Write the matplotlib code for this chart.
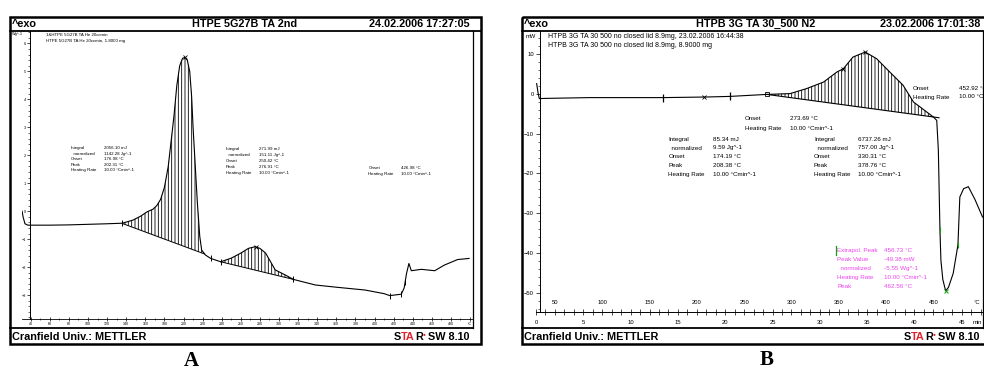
import numpy as np
import matplotlib.pyplot as plt
from matplotlib.patches import Rectangle
from matplotlib.ticker import MultipleLocator

plt.rcParams['font.family'] = ['Liberation Sans', 'DejaVu Sans']
plt.rcParams['hatch.linewidth'] = 0.6

W, H = 984, 369

# ---- panel A : HTPE 5G27B TA 2nd  (W/g against degC)
a_temp = [31, 32, 34, 37, 40, 60, 80, 100, 120, 136, 147, 155, 162, 168, 172,
          176, 180, 184, 187, 190, 193, 196, 199, 201.5, 204, 206.5, 208.5, 210,
          212, 214.5, 217, 219, 223, 228.5, 239, 250, 260, 268, 275, 280, 286,
          291, 296, 307, 315, 338, 360, 390, 410, 416, 428, 431, 433.5, 436,
          438.5, 449, 463, 473, 487, 499]
a_flow = [0.0, -0.2, -0.45, -0.5, -0.5, -0.5, -0.49, -0.47, -0.45, -0.43, -0.32,
          -0.18, -0.02, 0.07, 0.2, 0.42, 0.85, 1.6, 2.5, 3.4, 4.5, 5.2, 5.47, 5.5,
          5.4, 5.0, 4.1, 3.0, 1.8, 0.3, -0.9, -1.39, -1.57, -1.69, -1.81, -1.68,
          -1.5, -1.33, -1.27, -1.33, -1.5, -1.8, -2.1, -2.29, -2.44, -2.64, -2.72,
          -2.82, -2.95, -3.02, -2.97, -2.75, -2.23, -1.87, -2.13, -2.08, -2.13,
          -1.93, -1.73, -1.69]
a_base1_t = [136, 222]
a_base1_w = [-0.44, -1.53]
a_base2_t = [239, 315]
a_base2_w = [-1.81, -2.44]
a_marks_t = [136, 228.5, 239, 315, 416, 428, 432]
a_peaks_t = [201.5, 276]
a_yticks = [-3, -2, -1, 0, 1, 2, 3, 4, 5, 6]
a_xticks = [40, 60, 80, 100, 120, 140, 160, 180, 200, 220, 240, 260, 280, 300,
            320, 340, 360, 380, 400, 420, 440, 460, 480, 500]
a_xlabels = [str(v) for v in a_xticks[:-1]] + ['°C']

a_head = ['1&HTPE 5G27B TA He 20ccmin', 'HTPE 5G27B TA He 20ccmin, 1.8000 mg']
a_res1 = [('Integral', '2056.10 mJ'), ('  normalized', '1142.28 Jg^-1'),
          ('Onset', '176.98 °C'), ('Peak', '202.31 °C'),
          ('Heating Rate', '10.00 °Cmin^-1')]
a_res2 = [('Integral', '271.99 mJ'), ('  normalized', '151.11 Jg^-1'),
          ('Onset', '250.42 °C'), ('Peak', '276.91 °C'),
          ('Heating Rate', '10.00 °Cmin^-1')]
a_res3 = [('Onset', '426.98 °C'), ('Heating Rate', '10.00 °Cmin^-1')]

# ---- panel B : HTPB 3G TA 30_500 N2  (mW against min, 10 K/min from 30 degC)
b_time = [0.07, 0.21, 0.35, 0.95, 5.7, 10, 13.46, 18.0, 20.5, 24.4, 26.85, 28.6,
          30.4, 31.8, 32.5, 33.5, 34.8, 36.0, 37.4, 38.8, 39.9, 41.3, 42.0, 42.36,
          42.53, 42.7, 42.8, 43.0, 43.3, 43.6, 44.1, 44.6, 44.8, 45.2, 45.7, 46.4,
          47.2]
b_flow = [2.5, 0.3, -1.25, -1.2, -1.0, -1.0, -1.0, -0.85, -0.7, -0.2, 0.0, 1.25,
          2.9, 5.4, 6.25, 9.15, 10.4, 8.75, 5.4, 2.1, -2.1, -4.6, -5.85, -6.7,
          -14.2, -34.2, -41.7, -46.5, -49.4, -48.5, -45, -37.9, -25.9, -23.8,
          -23.3, -26.5, -30.9]
b_base_t = [24.4, 42.0]
b_base_w = [-0.2, -5.85]
b_bracket_t = [13.46, 20.5]
b_cross_t = [17.8, 32.5, 34.8]
b_green_t = [42.7, 44.6]
b_min_t = 43.3
b_yticks = [-50, -40, -30, -20, -10, 0, 10]
b_xticks = [0, 5, 10, 15, 20, 25, 30, 35, 40, 45]
b_tticks = [50, 100, 150, 200, 250, 300, 350, 400, 450]

b_head = ['HTPB 3G TA 30 500 no closed lid 8.9mg, 23.02.2006 16:44:38',
          'HTPB 3G TA 30 500 no closed lid 8.9mg, 8.9000 mg']
b_res1 = [('Onset', '273.69 °C'), ('Heating Rate', '10.00 °Cmin^-1')]
b_res2 = [('Integral', '85.34 mJ'), ('  normalized', '9.59 Jg^-1'),
          ('Onset', '174.19 °C'), ('Peak', '208.38 °C'),
          ('Heating Rate', '10.00 °Cmin^-1')]
b_res3 = [('Integral', '6737.26 mJ'), ('  normalized', '757.00 Jg^-1'),
          ('Onset', '330.31 °C'), ('Peak', '378.76 °C'),
          ('Heating Rate', '10.00 °Cmin^-1')]
b_res4 = [('Onset', '452.92 °C'), ('Heating Rate', '10.00 °Cmin^-1')]
b_res5 = [('Extrapol. Peak', '456.73 °C'), ('Peak Value', '-49.38 mW'),
          ('  normalized', '-5.55 Wg^-1'), ('Heating Rate', '10.00 °Cmin^-1'),
          ('Peak', '462.56 °C')]

RED = '#e3222b'
MAG = '#ee44ee'
GRN = '#12a012'

fig = plt.figure(figsize=(W / 100, H / 100), dpi=100)
bg = fig.add_axes([0, 0, 1, 1])
bg.set_xlim(0, W)
bg.set_ylim(H, 0)
bg.axis('off')


def px_axes(x0, y0, x1, y1):
    ax = fig.add_axes([x0 / W, 1 - y1 / H, (x1 - x0) / W, (y1 - y0) / H])
    ax.patch.set_visible(False)
    for s in ['top', 'right']:
        ax.spines[s].set_visible(False)
    return ax


def block(x_lab, x_val, y0, dy, rows, fs, color='black'):
    for i, (lab, val) in enumerate(rows):
        bg.text(x_lab, y0 + i * dy, lab, fontsize=fs, color=color, va='center')
        bg.text(x_val, y0 + i * dy, val, fontsize=fs, color=color, va='center')


def frame(x0, x1, xin, title, date):
    bg.add_patch(Rectangle((x0, 17), x1 - x0, 326.5, fill=False, lw=1.8,
                           ec='black', clip_on=False))
    bg.plot([x0, x1], [30.5, 30.5], color='black', lw=1.3)
    bg.plot([x0, xin], [327.5, 327.5], color='black', lw=1.3)
    bg.plot([xin, xin], [30.5, 327.5], color='black', lw=0.9)
    bg.text(x0 + 2, 24, '^exo', fontsize=7.8, fontweight='bold', va='center')
    bg.text((x0 + xin) / 2 + 3, 24, title, fontsize=7.8, fontweight='bold',
            va='center', ha='center')
    bg.text(xin - 3, 24, date, fontsize=7.8, fontweight='bold', va='center',
            ha='right')
    bg.text(x0 + 2.5, 337, 'Cranfield Univ.: METTLER', fontsize=7.8,
            fontweight='bold', va='center')
    # STAR(e) SW 8.10 logo, built right to left
    r = fig.canvas.get_renderer()
    x = xin - 3
    for s, c, dy, fs in [('SW 8.10', 'black', 0, 7.8), ('●', RED, -2.5, 3.5),
                         ('R', 'black', 0, 7.8), ('TA', RED, 0, 7.8),
                         ('S', 'black', 0, 7.8)]:
        t = bg.text(x, 337 + dy, s, fontsize=fs, fontweight='bold', color=c,
                    va='center', ha='right')
        x -= t.get_window_extent(r).width + (2.5 if s == 'SW 8.10' else 0.3)


frame(10, 481, 473, 'HTPE 5G27B TA 2nd', '24.02.2006 17:27:05')
frame(521.5, 995, 983, 'HTPB 3G TA 30_500 N2', '23.02.2006 17:01:38')

# ---------------- panel A plot
axA = px_axes(21.7, 30.5, 473, 319)
axA.plot(a_temp, a_flow, color='black', lw=0.8)
for bt, bw in [(a_base1_t, a_base1_w), (a_base2_t, a_base2_w)]:
    g = np.linspace(bt[0], bt[1], 300)
    axA.plot(bt, bw, color='black', lw=0.7)
    axA.fill_between(g, np.interp(g, bt, bw), np.interp(g, a_temp, a_flow),
                     facecolor='none', edgecolor='black', hatch='|||||', lw=0)
axA.plot(a_marks_t, np.interp(a_marks_t, a_temp, a_flow), '|', color='black',
         ms=4, mew=0.7)
axA.plot(a_peaks_t, np.interp(a_peaks_t, a_temp, a_flow), 'x', color='black',
         ms=2.5, mew=0.6)
axA.set_xlim(30.58, 503.1)
axA.set_ylim(-3.857, 6.464)
axA.spines['left'].set_position(('data', 39.3))
axA.spines['left'].set_linewidth(0.7)
axA.spines['bottom'].set_linewidth(0.6)
axA.set_yticks(a_yticks)
axA.yaxis.set_minor_locator(MultipleLocator(0.2))
axA.set_xticks(a_xticks)
axA.set_xticklabels(a_xlabels)
axA.xaxis.set_minor_locator(MultipleLocator(10))
axA.tick_params(axis='y', which='major', direction='out', length=2.2, width=0.5,
                labelsize=2.8, pad=0.8)
axA.tick_params(axis='y', which='minor', direction='out', length=1.2, width=0.4)
axA.tick_params(axis='x', which='major', direction='inout', length=2.6,
                width=0.5, labelsize=2.6, pad=1.2)
axA.tick_params(axis='x', which='minor', direction='inout', length=1.6, width=0.4)
bg.text(11.5, 33.5, 'Wg^-1', fontsize=2.8, va='center')
for i, s in enumerate(a_head):
    bg.text(46, 35.3 + 6 * i, s, fontsize=3.2, va='center')
block(71, 104.3, 148.3, 5.5, a_res1, 3.2)
block(226, 259, 149.3, 6.0, a_res2, 3.2)
block(368.3, 401, 168.3, 6.0, a_res3, 3.2)

# ---------------- panel B plot
axB = px_axes(536, 30.5, 983, 311.7)
axB.plot(b_time, b_flow, color='black', lw=0.8)
g = np.linspace(b_base_t[0], b_base_t[1], 400)
axB.fill_between(g, np.interp(g, b_base_t, b_base_w),
                 np.interp(g, b_time, b_flow), facecolor='none',
                 edgecolor='black', hatch='|||||', lw=0)
slope = (b_base_w[1] - b_base_w[0]) / (b_base_t[1] - b_base_t[0])
axB.plot([b_base_t[0], b_base_t[1] + 0.6],
         [b_base_w[0], b_base_w[1] + 0.6 * slope], color='black', lw=0.8)
axB.plot(b_bracket_t, np.interp(b_bracket_t, b_time, b_flow), '|',
         color='black', ms=6, mew=0.9)
axB.plot(b_cross_t, np.interp(b_cross_t, b_time, b_flow), 'x', color='black',
         ms=3, mew=0.6)
axB.plot(b_base_t[:1], b_base_w[:1], 's', mfc='none', mec='black', ms=3, mew=0.6)
axB.plot(b_green_t, np.interp(b_green_t, b_time, b_flow), '|', color=GRN,
         ms=4, mew=0.8)
axB.plot([b_min_t], [np.interp(b_min_t, b_time, b_flow)], 'x', color=GRN,
         ms=3, mew=0.7)
axB.set_xlim(0, 47.25)
axB.set_ylim(-54.6, 15.8)
axB.spines['left'].set_position(('data', 0.37))
axB.spines['left'].set_linewidth(0.7)
axB.spines['bottom'].set_linewidth(0.7)
axB.set_yticks(b_yticks)
axB.yaxis.set_minor_locator(MultipleLocator(2))
axB.set_xticks(b_xticks)
axB.xaxis.set_minor_locator(MultipleLocator(1))
axB.tick_params(axis='y', which='major', direction='out', length=3, width=0.5,
                labelsize=4.2, pad=1)
axB.tick_params(axis='y', which='minor', direction='out', length=1.6, width=0.4)
axB.tick_params(axis='x', which='both', direction='inout', length=4.5,
                width=0.5, labelsize=4.2, pad=3.5)
for T in b_tticks:
    axB.annotate(str(T), xy=((T - 30) / 10, 0), xycoords=('data', 'axes fraction'),
                 xytext=(0, 9), textcoords='offset pixels', ha='center',
                 va='center', fontsize=4.2)
bg.text(976.7, 302.3, '°C', fontsize=4.2, ha='center', va='center')
bg.text(977, 322.7, 'min', fontsize=4.2, ha='center', va='center')
bg.text(526, 36, 'mW', fontsize=4.2, va='center')
for i, s in enumerate(b_head):
    bg.text(548.3, 36.5 + 9 * i, s, fontsize=5.0, va='center')
block(745, 790, 119, 9.3, b_res1, 4.5)
block(668.3, 712.7, 139.3, 8.7, b_res2, 4.5)
block(814, 858.3, 139.3, 8.7, b_res3, 4.5)
block(912.7, 959.3, 88.3, 8.7, b_res4, 4.5)
block(837.3, 884.3, 250.7, 9.0, b_res5, 4.5, color=MAG)
bg.plot([836, 836], [246, 255], color=GRN, lw=0.9)

# panel letters
bg.text(191, 360.5, 'A', fontsize=15, fontweight='bold', family='Liberation Serif',
        ha='center', va='center')
bg.text(767, 360, 'B', fontsize=15, fontweight='bold', family='Liberation Serif',
        ha='center', va='center')

fig.savefig('out.png', dpi=100)
